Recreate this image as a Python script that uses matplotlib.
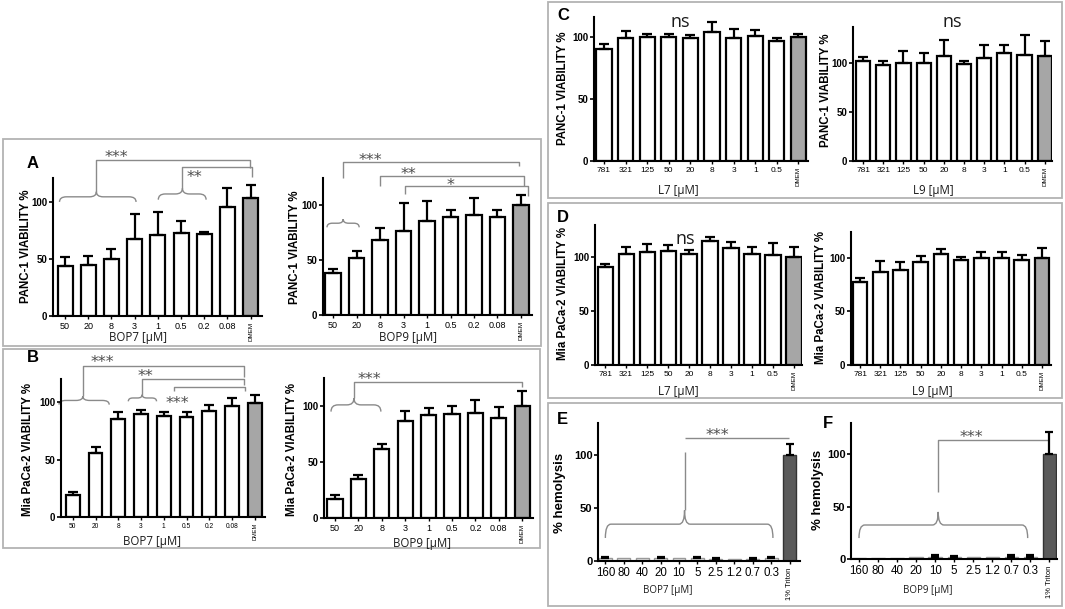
"""Viability and hemolysis bar panels (A-F) for BOP7/BOP9 and L7/L9."""

import matplotlib

matplotlib.use('Agg')
import matplotlib.pyplot as plt
import numpy as np
from matplotlib.patches import PathPatch, Rectangle
from matplotlib.path import Path
from matplotlib.transforms import offset_copy


W, H = 1065, 609

# ---- data -------------------------------------------------------------------
BOP_CONC = ['50', '20', '8', '3', '1', '0.5', '0.2', '0.08', 'DMEM']
L_CONC = ['781', '321', '125', '50', '20', '8', '3', '1', '0.5', 'DMEM']
HEMO_CONC = ['160', '80', '40', '20', '10', '5', '2.5', '1.2', '0.7', '0.3', '1% Triton']

panc1_bop7_mean = [43.6, 45.0, 50.3, 67.8, 71.3, 73.0, 71.6, 96.0, 103.5]
panc1_bop7_sd = [8.2, 7.6, 8.7, 21.2, 19.7, 10.0, 1.8, 16.0, 11.1]
panc1_bop9_mean = [38.0, 52.4, 68.0, 76.2, 85.4, 89.0, 91.5, 89.3, 100.6]
panc1_bop9_sd = [4.4, 5.6, 11.0, 25.8, 18.3, 7.0, 15.2, 6.7, 9.2]

mia_bop7_mean = [18.8, 55.7, 85.2, 89.6, 87.5, 87.0, 91.9, 96.2, 99.0]
mia_bop7_sd = [2.6, 5.2, 6.4, 3.7, 3.5, 4.3, 5.8, 7.3, 7.4]
mia_bop9_mean = [16.7, 34.6, 62.0, 86.9, 92.0, 92.5, 93.4, 89.6, 100.0]
mia_bop9_sd = [3.6, 3.6, 4.0, 8.6, 5.9, 7.5, 12.0, 9.2, 13.4]

panc1_l7_mean = [90.3, 99.2, 100.0, 99.7, 98.7, 103.8, 98.7, 100.8, 96.5, 100.0]
panc1_l7_sd = [4.3, 5.4, 2.7, 2.4, 2.6, 8.2, 8.0, 5.1, 2.2, 2.7]
panc1_l9_mean = [102.0, 98.6, 100.3, 100.3, 107.0, 99.3, 105.8, 110.5, 108.8, 107.8]
panc1_l9_sd = [4.8, 4.1, 12.6, 10.2, 17.0, 3.4, 13.2, 8.5, 20.0, 14.6]

mia_l7_mean = [90.7, 103.1, 105.0, 105.6, 103.1, 114.9, 108.7, 103.1, 102.5, 100.0]
mia_l7_sd = [3.4, 6.5, 7.7, 5.6, 4.0, 4.0, 5.3, 6.5, 10.9, 9.6]
mia_l9_mean = [77.2, 86.6, 89.0, 96.3, 103.1, 98.1, 99.4, 100.0, 97.8, 100.0]
mia_l9_sd = [3.8, 10.3, 7.3, 5.3, 4.7, 2.8, 5.9, 5.6, 4.7, 9.4]

hemo_bop7_mean = [2.5, 2.5, 2.5, 2.5, 2.5, 2.5, 2.0, 1.5, 2.0, 2.5, 100.0]
hemo_bop7_sd = [1.0, 0.0, 0.0, 1.0, 0.0, 1.0, 1.0, 0.0, 1.0, 1.0, 10.4]
hemo_bop9_mean = [0.5, 0.5, 0.5, 1.5, 2.0, 1.5, 1.5, 1.5, 2.0, 2.0, 100.0]
hemo_bop9_sd = [0.0, 0.0, 0.0, 0.0, 1.5, 1.0, 0.0, 0.0, 1.5, 1.5, 21.3]

# ---- style ------------------------------------------------------------------
plt.rcParams['font.family'] = ['Liberation Sans', 'DejaVu Sans']
LABEL_FONT = ['Open Sans', 'DejaVu Sans']
ANNOT_GRAY = '#8a8a8a'
STAR_GRAY = '#4d4d4d'
STAR_SIZE = 11.5
DMEM_GRAY = '#a6a6a6'
TRITON_GRAY = '#5a5a5a'

fig = plt.figure(figsize=(W / 100, H / 100), dpi=100)


def fx(x):
    return x / W


def fy(y):
    return 1 - y / H


def add_axes(x0, x1, ytop, ybot):
    return fig.add_axes([fx(x0), fy(ybot), (x1 - x0) / W, (ybot - ytop) / H])


def brace(ax, x0, x1, y0, h, xt):
    """Upward curly brace from x0 to x1, tip at xt."""
    r = min(0.3, (xt - x0) / 3, (x1 - xt) / 3)
    ym = y0 + h / 2
    yt = y0 + h
    verts = [(x0, y0), (x0, ym), (x0 + r, ym), (xt - r, ym), (xt, ym), (xt, yt),
             (xt, ym), (xt + r, ym), (x1 - r, ym), (x1, ym), (x1, y0)]
    codes = [Path.MOVETO, Path.CURVE3, Path.CURVE3, Path.LINETO, Path.CURVE3,
             Path.CURVE3, Path.CURVE3, Path.CURVE3, Path.LINETO, Path.CURVE3,
             Path.CURVE3]
    ax.add_patch(PathPatch(Path(verts, codes), facecolor='none',
                           edgecolor=ANNOT_GRAY, lw=1.0, clip_on=False))


def draw_panel(spec):
    ax = add_axes(*spec['box'])
    labels = spec['labels']
    x = np.arange(len(labels))
    mean = np.asarray(spec['mean'])
    sd = np.asarray(spec['sd'])
    ax.bar(x, mean, spec['width'], color=spec['fills'], edgecolor=spec['edges'],
           linewidth=spec.get('bar_lw', 1.6), zorder=2)
    mask = sd > 0
    ax.errorbar(x[mask], mean[mask], yerr=[np.zeros(mask.sum()), sd[mask]],
                fmt='none', ecolor='black', elinewidth=1.6, capsize=spec.get('cap', 3.5),
                capthick=1.6, zorder=3)

    ax.set_xlim(*spec['xlim'])
    ax.set_ylim(*spec['ylim'])
    for side in ('top', 'right'):
        ax.spines[side].set_visible(False)
    for side in ('left', 'bottom'):
        ax.spines[side].set_linewidth(1.5)
    ax.patch.set_alpha(0)
    ax.set_yticks([0, 50, 100])
    ax.tick_params(axis='y', direction='out', length=3, width=1.2,
                   labelsize=spec['yfs'], pad=1)
    ax.tick_params(axis='x', direction='out', length=2.5, width=1.0,
                   labelsize=spec['xfs'], pad=2)
    ax.set_xticks(x)
    ax.set_xticklabels(labels)
    for t in ax.get_yticklabels():
        t.set_fontweight('bold')
    last = ax.get_xticklabels()[-1]
    last.set_rotation(90)
    last.set_fontsize(spec['lastfs'])

    for b in spec.get('braces', []):
        brace(ax, *b)
    for pts in spec.get('lines', []):
        px, py = zip(*pts)
        ax.plot(px, py, color=ANNOT_GRAY, lw=1.0, clip_on=False, solid_capstyle='butt')
    # asterisk glyphs sit high in the em box: put the baseline below the wanted centre
    star_tr = offset_copy(ax.transData, fig=fig, y=-0.56 * STAR_SIZE, units='points')
    for txt, tx, ty in spec.get('stars', []):
        ax.text(tx, ty, txt, ha='center', va='baseline', fontsize=STAR_SIZE,
                family=['DejaVu Sans'], color=STAR_GRAY, clip_on=False,
                transform=star_tr)
    for txt, tx, ty in spec.get('ns', []):
        ax.text(tx, ty, txt, ha='center', va='center', fontsize=13,
                family=LABEL_FONT, color='#1a1a1a', clip_on=False)

    lx, ly = spec['ylabel_pos']
    fig.text(fx(lx), fy(ly), spec['ylabel'], rotation=90, ha='center', va='center',
             fontsize=spec['ylfs'], fontweight='bold')
    xx, xy = spec['xlabel_pos']
    fig.text(fx(xx), fy(xy), spec['xlabel'], ha='center', va='center',
             fontsize=spec['xlfs'], family=LABEL_FONT, color='#1a1a1a')
    return ax


def viability_colors(n):
    return ['white'] * (n - 1) + [DMEM_GRAY], ['black'] * n


def hemo_colors(n):
    return (['#e2e2e2'] * (n - 1) + [TRITON_GRAY],
            ['#9a9a9a'] * (n - 1) + ['#333333'])


bop_fill, bop_edge = viability_colors(len(BOP_CONC))
l_fill, l_edge = viability_colors(len(L_CONC))
h_fill, h_edge = hemo_colors(len(HEMO_CONC))

panels = [
    dict(box=(53, 262, 178, 316), xlim=(-0.52, 8.49), ylim=(0, 121),
         labels=BOP_CONC, mean=panc1_bop7_mean, sd=panc1_bop7_sd, width=0.65,
         fills=bop_fill, edges=bop_edge, xfs=6.5, yfs=7, lastfs=4.5,
         ylabel='PANC-1 VIABILITY %', ylabel_pos=(26, 246), ylfs=8.3,
         xlabel='BOP7 [\u03bcM]', xlabel_pos=(138, 338), xlfs=8.3,
         braces=[(-0.24, 3.06, 100, 9, 1.35), (4.02, 6.08, 102, 10, 5.06)],
         lines=[[(1.35, 109), (1.35, 137), (7.97, 137), (7.97, 130)],
                [(5.06, 112), (5.06, 131), (8.07, 131), (8.07, 122)]],
         stars=[('***', 2.2, 143), ('**', 5.57, 125.5)]),
    dict(box=(323, 532, 178, 315), xlim=(-0.43, 8.47), ylim=(0, 125),
         labels=BOP_CONC, mean=panc1_bop9_mean, sd=panc1_bop9_sd, width=0.65,
         fills=bop_fill, edges=bop_edge, xfs=6.5, yfs=7, lastfs=4.5,
         ylabel='PANC-1 VIABILITY %', ylabel_pos=(295, 247), ylfs=8.3,
         xlabel='BOP9 [\u03bcM]', xlabel_pos=(408, 338), xlfs=8.3,
         braces=[(-0.26, 1.11, 80, 7.5, 0.43)],
         lines=[[(0.43, 125), (0.43, 140), (7.9, 140), (7.9, 135.6)],
                [(2.0, 118), (2.0, 126.5), (8.11, 126.5), (8.11, 118)],
                [(3.06, 110), (3.06, 118), (8.28, 118), (8.28, 109)]],
         stars=[('***', 1.57, 145), ('**', 3.2, 132), ('*', 4.98, 122)]),
    dict(box=(61, 265, 379, 517), xlim=(-0.52, 8.45), ylim=(0, 120),
         labels=BOP_CONC, mean=mia_bop7_mean, sd=mia_bop7_sd, width=0.6,
         fills=bop_fill, edges=bop_edge, xfs=4.8, yfs=7, lastfs=4.0,
         ylabel='Mia PaCa-2 VIABILITY %', ylabel_pos=(28, 450), ylfs=8.3,
         xlabel='BOP7 [\u03bcM]', xlabel_pos=(152, 542), xlfs=8.3,
         braces=[(-0.61, 1.6, 97.7, 7.3, 0.44), (2.44, 3.68, 100.6, 5.8, 3.05)],
         lines=[[(0.44, 105), (0.44, 131), (7.53, 131), (7.53, 122)],
                [(3.05, 106.4), (3.05, 120), (7.53, 120), (7.53, 115)],
                [(4.44, 109.3), (4.44, 113), (7.56, 113), (7.56, 110)]],
         stars=[('***', 1.3, 138), ('**', 3.2, 125.8), ('***', 4.6, 102.6)]),
    dict(box=(324, 533, 378, 518), xlim=(-0.47, 8.46), ylim=(0, 125),
         labels=BOP_CONC, mean=mia_bop9_mean, sd=mia_bop9_sd, width=0.65,
         fills=bop_fill, edges=bop_edge, xfs=6.5, yfs=7, lastfs=4.5,
         ylabel='Mia PaCa-2 VIABILITY %', ylabel_pos=(292, 449), ylfs=8.3,
         xlabel='BOP9 [\u03bcM]', xlabel_pos=(422, 543), xlfs=8.3,
         braces=[(-0.17, 1.96, 95, 12, 0.81)],
         lines=[[(0.81, 107), (0.81, 121.8), (8.0, 121.8), (8.0, 116.7)]],
         stars=[('***', 1.47, 128)]),
    dict(box=(594, 808, 17, 161), xlim=(-0.46, 9.44), ylim=(0, 116),
         labels=L_CONC, mean=panc1_l7_mean, sd=panc1_l7_sd, width=0.7,
         fills=l_fill, edges=l_edge, xfs=6, yfs=7, lastfs=4.5,
         ylabel='PANC-1 VIABILITY %', ylabel_pos=(563, 88), ylfs=8.3,
         xlabel='L7 [\u03bcM]', xlabel_pos=(678, 190), xlfs=8.3,
         ns=[('ns', 3.53, 112)]),
    dict(box=(853, 1052, 27, 161), xlim=(-0.5, 9.36), ylim=(0, 137),
         labels=L_CONC, mean=panc1_l9_mean, sd=panc1_l9_sd, width=0.7,
         fills=l_fill, edges=l_edge, xfs=6, yfs=7, lastfs=4.5,
         ylabel='PANC-1 VIABILITY %', ylabel_pos=(826, 90), ylfs=8.3,
         xlabel='L9 [\u03bcM]', xlabel_pos=(933, 190), xlfs=8.3,
         ns=[('ns', 4.42, 141.7)]),
    dict(box=(595, 802, 225, 365), xlim=(-0.48, 9.38), ylim=(0, 130),
         labels=L_CONC, mean=mia_l7_mean, sd=mia_l7_sd, width=0.72,
         fills=l_fill, edges=l_edge, xfs=6, yfs=7, lastfs=4.5,
         ylabel='Mia PaCa-2 VIABILITY %', ylabel_pos=(563, 293), ylfs=8.3,
         xlabel='L7 [\u03bcM]', xlabel_pos=(678, 392), xlfs=8.3,
         ns=[('ns', 3.8, 117)]),
    dict(box=(851, 1051, 232, 365), xlim=(-0.45, 9.45), ylim=(0, 124),
         labels=L_CONC, mean=mia_l9_mean, sd=mia_l9_sd, width=0.72,
         fills=l_fill, edges=l_edge, xfs=6, yfs=7, lastfs=4.5,
         ylabel='Mia PaCa-2 VIABILITY %', ylabel_pos=(821, 297), ylfs=8.3,
         xlabel='L9 [\u03bcM]', xlabel_pos=(932, 392), xlfs=8.3),
    dict(box=(598, 800, 423, 561), xlim=(-0.4, 10.57), ylim=(0, 130),
         labels=HEMO_CONC, mean=hemo_bop7_mean, sd=hemo_bop7_sd, width=0.7,
         fills=h_fill, edges=h_edge, bar_lw=1.0, cap=3.0, xfs=8.3, yfs=8, lastfs=5.5,
         ylabel='% hemolysis', ylabel_pos=(560, 493), ylfs=9.5,
         xlabel='BOP7 [\u03bcM]', xlabel_pos=(668, 590), xlfs=7,
         braces=[(0.0, 9.1, 21.7, 26, 4.3)],
         lines=[[(4.3, 47.7), (4.3, 102.8)], [(4.3, 116), (9.95, 116)]],
         stars=[('***', 6.1, 122.5)]),
    dict(box=(851, 1057, 423, 559), xlim=(-0.42, 10.4), ylim=(0, 130),
         labels=HEMO_CONC, mean=hemo_bop9_mean, sd=hemo_bop9_sd, width=0.7,
         fills=h_fill, edges=h_edge, bar_lw=1.0, cap=3.0, xfs=8.3, yfs=8, lastfs=5.5,
         ylabel='% hemolysis', ylabel_pos=(818, 490), ylfs=9.5,
         xlabel='BOP9 [\u03bcM]', xlabel_pos=(928, 590), xlfs=7,
         braces=[(0.0, 8.86, 20, 25, 4.16)],
         lines=[[(4.16, 64), (4.16, 114), (10.0, 114)]],
         stars=[('***', 5.9, 120.6)]),
]

for spec in panels:
    draw_panel(spec)

# panel frames
for x0, y0, x1, y1 in [(3, 139, 541, 346), (3, 349, 540, 548),
                       (548, 2, 1062, 198), (548, 203, 1062, 398),
                       (548, 403, 1062, 606)]:
    fig.patches.append(Rectangle((fx(x0), fy(y1)), (x1 - x0) / W, (y1 - y0) / H,
                                 transform=fig.transFigure, facecolor='none',
                                 edgecolor='#b3b3b3', lw=1.3))

for letter, lx, ly in [('A', 33, 163), ('B', 33, 358), ('C', 563, 15),
                       ('D', 563, 218), ('E', 562, 420), ('F', 828, 423)]:
    fig.text(fx(lx), fy(ly), letter, ha='center', va='center',
             fontsize=12, fontweight='bold')

fig.savefig('out.png', dpi=100)
